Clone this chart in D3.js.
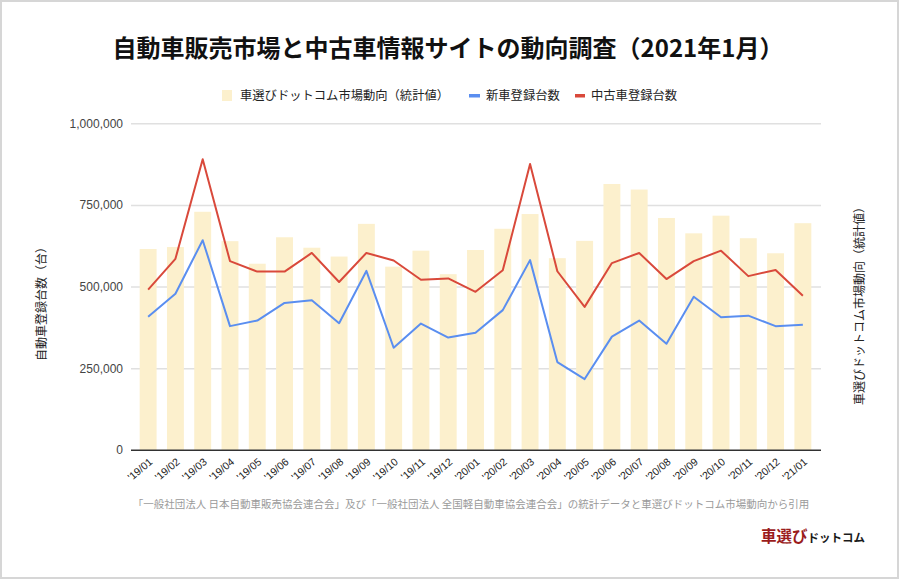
<!DOCTYPE html>
<html><head><meta charset="utf-8">
<script src="https://cdn.jsdelivr.net/npm/d3@7"></script>
<style>
html,body{margin:0;padding:0;background:#fff;}
svg{display:block;font-family:"Liberation Sans","Noto Sans CJK JP",sans-serif;}
</style></head>
<body><svg id="c" width="900" height="580"></svg>
<script>
const categories = ["'19/01","'19/02","'19/03","'19/04","'19/05","'19/06","'19/07","'19/08","'19/09","'19/10","'19/11","'19/12",
  "'20/01","'20/02","'20/03","'20/04","'20/05","'20/06","'20/07","'20/08","'20/09","'20/10","'20/11","'20/12","'21/01"];
const marketTrend = [615000,621000,729000,639000,570000,651000,619000,592000,692000,561000,610000,538000,
  612000,677000,722000,587000,640000,814000,797000,710000,663000,717000,648000,602000,694000];
const newCars = [408000,478000,642000,379000,396000,450000,458000,388000,548000,313000,387000,344000,
  359000,428000,581000,269000,217000,347000,396000,325000,469000,406000,411000,379000,383000];
const usedCars = [491000,585000,890000,578000,546000,546000,603000,514000,603000,580000,521000,525000,
  484000,550000,875000,547000,438000,572000,603000,523000,578000,610000,532000,551000,472000];
const leftTicks = [0,250000,500000,750000,1000000];
const legendLabels = ["車選びドットコム市場動向（統計値）","新車登録台数","中古車登録台数"];
const titleText = "自動車販売市場と中古車情報サイトの動向調査（2021年1月）";
const leftTitle = "自動車登録台数（台）";
const rightTitle = "車選びドットコム市場動向（統計値）";
const footerText = "「一般社団法人 日本自動車販売協会連合会」及び「一般社団法人 全国軽自動車協会連合会」の統計データと車選びドットコム市場動向から引用";

const barColor = "#fcf0cd", blue = "#5a8ef0", red = "#d9493b";
const svg = d3.select("#c");
const gridL = 131, gridR = 821, plotTop = 123.2, plotBottom = 450;

svg.append("rect").attr("x",1).attr("y",1).attr("width",897).attr("height",577)
  .attr("fill","#fff").attr("stroke","#d6d6d6").attr("stroke-width",2);

const x = d3.scaleBand().domain(categories).range([134.5, 816.5]).paddingInner(0.38).paddingOuter(0.19);
const y = d3.scaleLinear().domain([0,1000000]).range([plotBottom, plotTop]);
const y2 = d3.scaleLinear().domain([0,1000000]).range([plotBottom, plotTop]);

// gridlines + left axis
const yAxis = d3.axisLeft(y).tickValues(leftTicks).tickFormat(d3.format(",")).tickSize(0).tickPadding(8);
const ga = svg.append("g").attr("transform",`translate(${gridL},0)`).call(yAxis);
ga.select(".domain").remove();
ga.selectAll("text").attr("font-size",12).attr("fill","#444");
ga.selectAll(".tick").append("line").attr("x1",0).attr("x2",gridR-gridL)
  .attr("stroke",d=>d===0?"#333":"#e0e0e0").attr("stroke-width",d=>d===0?1:1.5);

// bars
svg.append("g").selectAll("rect").data(categories).join("rect")
  .attr("x",d=>x(d)).attr("width",x.bandwidth())
  .attr("y",(d,i)=>y2(marketTrend[i])).attr("height",(d,i)=>plotBottom-y2(marketTrend[i]))
  .attr("fill",barColor);

// baseline on top of bars
svg.append("line").attr("x1",gridL).attr("x2",gridR).attr("y1",plotBottom).attr("y2",plotBottom).attr("stroke","#333").attr("stroke-width",1);

const cx = d => x(d) + x.bandwidth()/2;
const line = arr => d3.line().x((d,i)=>cx(categories[i])).y(d=>y(d))(arr);
svg.append("path").attr("d",line(newCars)).attr("fill","none").attr("stroke",blue).attr("stroke-width",2).attr("stroke-linejoin","round");
svg.append("path").attr("d",line(usedCars)).attr("fill","none").attr("stroke",red).attr("stroke-width",2).attr("stroke-linejoin","round");

// x axis labels
const xAxis = d3.axisBottom(x).tickSize(0).tickPadding(0);
const gx = svg.append("g").attr("transform",`translate(0,${plotBottom})`).call(xAxis);
gx.select(".domain").remove();
gx.selectAll("text").attr("font-size",10.5).attr("fill","#222")
  .attr("text-anchor","end").attr("dy",0)
  .attr("transform","translate(5,13) rotate(-40)");

// title
svg.append("text").attr("x",448).attr("y",57).attr("text-anchor","middle")
  .attr("font-size",24).attr("font-weight","bold").attr("fill","#111")
  .attr("font-family","'Noto Sans CJK JP',sans-serif").text(titleText);

// legend
const lg = svg.append("g").attr("font-size",12.3).attr("fill","#222").attr("font-family","'Noto Sans CJK JP',sans-serif");
lg.append("rect").attr("x",222).attr("y",90).attr("width",10).attr("height",11).attr("fill",barColor);
lg.append("text").attr("x",240).attr("y",100).text(legendLabels[0]);
lg.append("rect").attr("x",469).attr("y",94).attr("width",11).attr("height",3.5).attr("fill",blue);
lg.append("text").attr("x",486).attr("y",100).text(legendLabels[1]);
lg.append("rect").attr("x",575).attr("y",94).attr("width",10).attr("height",3.5).attr("fill",red);
lg.append("text").attr("x",591).attr("y",100).text(legendLabels[2]);

// axis titles
svg.append("text").attr("transform","translate(46,301) rotate(-90)").attr("text-anchor","middle")
  .attr("font-size",12).attr("fill","#222").attr("font-family","'Noto Sans CJK JP',sans-serif").text(leftTitle);
svg.append("text").attr("transform","translate(864,303) rotate(-90)").attr("text-anchor","middle")
  .attr("font-size",12).attr("fill","#222").attr("font-family","'Noto Sans CJK JP',sans-serif").text(rightTitle);

// footer
svg.append("text").attr("x",471).attr("y",508).attr("text-anchor","middle")
  .attr("font-size",10.5).attr("fill","#9a9a9a").attr("font-family","'Noto Sans CJK JP',sans-serif").text(footerText);

// logo
const logo = svg.append("text").attr("x",761).attr("y",542).attr("font-family","'Noto Sans CJK JP',sans-serif").attr("font-weight","bold");
logo.append("tspan").attr("font-size",15.5).attr("fill","#9b1c1c").text("車選び");
logo.append("tspan").attr("font-size",11.5).attr("fill","#1a1a1a").text("ドットコム");
</script></body></html>
